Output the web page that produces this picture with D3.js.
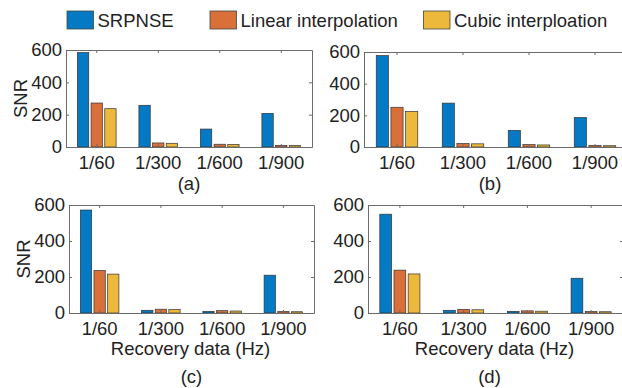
<!DOCTYPE html>
<html>
<head>
<meta charset="utf-8">
<script src="https://cdn.jsdelivr.net/npm/d3@7"></script>
<style>
  html, body { margin: 0; padding: 0; background: #fff; }
  svg { display: block; font-family: "Liberation Sans", Arial, sans-serif; }
</style>
</head>
<body>
<svg id="chart" width="622" height="388"></svg>
<script>
// Sampling rates shown on every panel
const categories = ["1/60", "1/300", "1/600", "1/900"];
const seriesNames = ["SRPNSE", "Linear interpolation", "Cubic interploation"];
const seriesColors = ["#0479C4", "#D9703A", "#ECB93C"];
const yTicks = [0, 200, 400, 600];
const panelLabels = ["(a)", "(b)", "(c)", "(d)"];

// SNR per panel and method
const srpnseA = [584, 258, 111, 208];
const linearA = [272, 25, 17, 10];
const cubicA = [237, 23, 16, 9];

const srpnseB = [577, 277, 105, 186];
const linearB = [251, 22, 15, 9];
const cubicB = [224, 20, 13, 8];

const srpnseC = [572, 15, 9, 210];
const linearC = [236, 21, 13, 8];
const cubicC = [216, 19, 11, 7];

const srpnseD = [549, 15, 9, 193];
const linearD = [238, 20, 12, 8];
const cubicD = [217, 18, 10, 7];

const panelSeries = [
  [srpnseA, linearA, cubicA],
  [srpnseB, linearB, cubicB],
  [srpnseC, linearC, cubicC],
  [srpnseD, linearD, cubicD]
];

// Plot areas of the four subplots
const boxes = [
  { x0: 66,  x1: 312, y0: 50,  y1: 147, ylab: true,  xlab: false, labY: 189.5 },
  { x0: 364, x1: 628, y0: 52,  y1: 147, ylab: false, xlab: false, labY: 189.5 },
  { x0: 69,  x1: 314, y0: 205, y1: 313, ylab: true,  xlab: true,  labY: 383 },
  { x0: 368, x1: 623, y0: 205, y1: 313, ylab: false, xlab: true,  labY: 383 }
];

const ink = "#222";
const axisStroke = "#6b6b6b";
const fontSize = 18.5;
const svg = d3.select("#chart");

boxes.forEach((b, p) => {
  const g = svg.append("g");
  const x = d3.scaleBand().domain(categories).range([b.x0, b.x1]).padding(0);
  const step = x.step();
  const xInner = d3.scaleBand().domain(seriesNames)
    .range([-0.3335 * step, 0.3335 * step])
    .paddingInner(0.17).paddingOuter(0.085);
  const y = d3.scaleLinear().domain([0, 600]).range([b.y1, b.y0]);

  // bars
  panelSeries[p].forEach((vals, s) => {
    g.append("g").selectAll("rect").data(vals).join("rect")
      .attr("x", (d, i) => x(categories[i]) + step / 2 + xInner(seriesNames[s]))
      .attr("width", xInner.bandwidth())
      .attr("y", d => y(d))
      .attr("height", d => y(0) - y(d))
      .attr("fill", seriesColors[s])
      .attr("stroke", "#333")
      .attr("stroke-width", 0.7);
  });

  const styleAxis = sel => {
    sel.selectAll(".domain").attr("stroke", axisStroke).attr("stroke-width", 1);
    sel.selectAll(".tick line").attr("stroke", axisStroke);
    sel.selectAll("text").attr("fill", ink).attr("font-size", fontSize)
      .attr("font-family", "'Liberation Sans', Arial, sans-serif");
  };

  // bottom and top axes (ticks point inward)
  g.append("g").attr("transform", `translate(0,${b.y1})`)
    .call(d3.axisBottom(x).tickSizeInner(-3).tickSizeOuter(0).tickPadding(8.5))
    .call(styleAxis);
  g.append("g").attr("transform", `translate(0,${b.y0})`)
    .call(d3.axisTop(x).tickSizeInner(-3).tickSizeOuter(0).tickFormat(""))
    .call(styleAxis);
  // left and right axes
  g.append("g").attr("transform", `translate(${b.x0},0)`)
    .call(d3.axisLeft(y).tickValues(yTicks).tickSizeInner(-3).tickSizeOuter(0).tickPadding(4))
    .call(styleAxis);
  g.append("g").attr("transform", `translate(${b.x1},0)`)
    .call(d3.axisRight(y).tickValues(yTicks).tickSizeInner(-3).tickSizeOuter(0).tickFormat(""))
    .call(styleAxis);
  g.selectAll(".domain").attr("fill", "none");

  if (b.ylab) {
    g.append("text")
      .attr("transform", `translate(${b.x0 - 45},${(b.y0 + b.y1) / 2}) rotate(-90)`)
      .attr("text-anchor", "middle").attr("dy", "0.35em")
      .attr("font-size", fontSize).attr("fill", ink).text("SNR");
  }
  if (b.xlab) {
    g.append("text")
      .attr("x", (b.x0 + b.x1) / 2 - 1).attr("y", 354.5)
      .attr("text-anchor", "middle").attr("font-size", fontSize).attr("fill", ink)
      .text("Recovery data (Hz)");
  }
  g.append("text")
    .attr("x", (b.x0 + b.x1) / 2 - (p % 2 ? 6 : 0)).attr("y", b.labY)
    .attr("text-anchor", "middle").attr("font-size", fontSize).attr("fill", ink)
    .text(panelLabels[p]);
});

// legend across the top
const legendX = [67, 210, 423.5];
const legend = svg.append("g");
seriesNames.forEach((name, i) => {
  legend.append("rect")
    .attr("x", legendX[i]).attr("y", 11)
    .attr("width", 26.5).attr("height", 18)
    .attr("fill", seriesColors[i]).attr("stroke", "#444").attr("stroke-width", 0.8);
  legend.append("text")
    .attr("x", legendX[i] + 30.5).attr("y", 26.7)
    .attr("font-size", fontSize).attr("fill", ink).text(name);
});
</script>
</body>
</html>
